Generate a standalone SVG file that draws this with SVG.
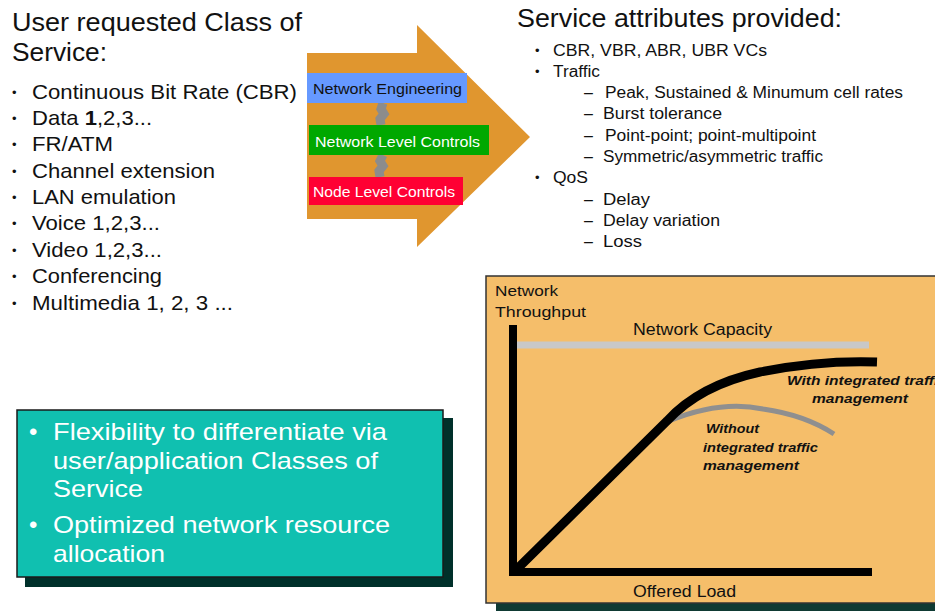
<svg xmlns="http://www.w3.org/2000/svg" width="935" height="611" viewBox="0 0 935 611">
<style>
text{font-family:"Liberation Sans",Arial,sans-serif;fill:#111}
.h{font-size:26px}
.l{font-size:21px}
.r{font-size:16px}
.w{fill:#fff}
.b{font-size:13px}
.i{font-style:italic;font-weight:bold;font-size:13px}
</style>
<rect width="935" height="611" fill="#fff"/>
<g id="left-list">
<text class="h" x="12" y="31" textLength="290" lengthAdjust="spacingAndGlyphs">User requested Class of</text>
<text class="h" x="12" y="61" textLength="95" lengthAdjust="spacingAndGlyphs">Service:</text>
<g class="l">
<text class="b" x="12" y="97">•</text><text x="32" y="99" textLength="265" lengthAdjust="spacingAndGlyphs">Continuous Bit Rate (CBR)</text>
<text class="b" x="12" y="123">•</text><text x="32" y="125" textLength="120" lengthAdjust="spacingAndGlyphs">Data <tspan font-weight="bold">1</tspan>,2,3...</text>
<text class="b" x="12" y="149">•</text><text x="32" y="151" textLength="81" lengthAdjust="spacingAndGlyphs">FR/ATM</text>
<text class="b" x="12" y="176">•</text><text x="32" y="178" textLength="183" lengthAdjust="spacingAndGlyphs">Channel extension</text>
<text class="b" x="12" y="202">•</text><text x="32" y="204" textLength="144" lengthAdjust="spacingAndGlyphs">LAN emulation</text>
<text class="b" x="12" y="228">•</text><text x="32" y="230" textLength="128" lengthAdjust="spacingAndGlyphs">Voice 1,2,3...</text>
<text class="b" x="12" y="255">•</text><text x="32" y="257" textLength="130" lengthAdjust="spacingAndGlyphs">Video 1,2,3...</text>
<text class="b" x="12" y="281">•</text><text x="32" y="283" textLength="130" lengthAdjust="spacingAndGlyphs">Conferencing</text>
<text class="b" x="12" y="308">•</text><text x="32" y="310" textLength="201" lengthAdjust="spacingAndGlyphs">Multimedia 1, 2, 3 ...</text>
</g>
</g>
<g id="arrow">
<polygon points="307,53 417,53 417,25 530,137 417,247 417,219 307,219" fill="#E0962F"/>
</g>
<g id="connectors">
<path d="M383,103 L381,109 L384,114 L380,119 L381,125 M383,155 L380,161 L383,166 L379,171 L380,177" stroke="#8C8C8C" stroke-width="9" fill="none"/>
</g>
<g id="network-engineering">
<rect x="307" y="73" width="160" height="30" fill="#6699FF"/>
<text x="313" y="94" font-size="15" textLength="149" lengthAdjust="spacingAndGlyphs">Network Engineering</text>
</g>
<g id="network-level-controls">
<rect x="309" y="125" width="180" height="30" fill="#00A800"/>
<text class="w" x="315" y="147" font-size="15" textLength="165" lengthAdjust="spacingAndGlyphs">Network Level Controls</text>
</g>
<g id="node-level-controls">
<rect x="309" y="177" width="154" height="28" fill="#FF0033"/>
<text class="w" x="313" y="197" font-size="15" textLength="142" lengthAdjust="spacingAndGlyphs">Node Level Controls</text>
</g>
<g id="right-list">
<text x="517" y="27" font-size="26" textLength="325" lengthAdjust="spacingAndGlyphs">Service attributes provided:</text>
<g class="r">
<text class="b" x="535" y="55">•</text><text x="553" y="56" textLength="214" lengthAdjust="spacingAndGlyphs">CBR, VBR, ABR, UBR VCs</text>
<text class="b" x="535" y="76">•</text><text x="553" y="77" textLength="47" lengthAdjust="spacingAndGlyphs">Traffic</text>
<text x="584" y="98">–</text><text x="605" y="98" textLength="298" lengthAdjust="spacingAndGlyphs">Peak, Sustained &amp; Minumum cell rates</text>
<text x="584" y="119">–</text><text x="603" y="119" textLength="119" lengthAdjust="spacingAndGlyphs">Burst tolerance</text>
<text x="584" y="141">–</text><text x="605" y="141" textLength="211" lengthAdjust="spacingAndGlyphs">Point-point; point-multipoint</text>
<text x="584" y="162">–</text><text x="603" y="162" textLength="220" lengthAdjust="spacingAndGlyphs">Symmetric/asymmetric traffic</text>
<text class="b" x="535" y="182">•</text><text x="553" y="183" textLength="35" lengthAdjust="spacingAndGlyphs">QoS</text>
<text x="584" y="205">–</text><text x="603" y="205" textLength="47" lengthAdjust="spacingAndGlyphs">Delay</text>
<text x="584" y="226">–</text><text x="603" y="226" textLength="117" lengthAdjust="spacingAndGlyphs">Delay variation</text>
<text x="584" y="247">–</text><text x="603" y="247" textLength="39" lengthAdjust="spacingAndGlyphs">Loss</text>
</g>
</g>
<g id="chart">
<rect x="496" y="600" width="450" height="11" fill="#0F3A33"/>
<rect x="486" y="276" width="460" height="327" fill="#F5BE6A" stroke="#333" stroke-width="1.5"/>
<text x="495" y="296" font-size="15" textLength="63" lengthAdjust="spacingAndGlyphs">Network</text>
<text x="495" y="317" font-size="15" textLength="91" lengthAdjust="spacingAndGlyphs">Throughput</text>
<text x="633" y="335" font-size="16" textLength="139" lengthAdjust="spacingAndGlyphs">Network Capacity</text>
<line x1="516" y1="345" x2="869" y2="345" stroke="#C8C8C8" stroke-width="7"/>
<line x1="513" y1="325" x2="513" y2="576" stroke="#000" stroke-width="8"/>
<line x1="509" y1="572" x2="872" y2="572" stroke="#000" stroke-width="8"/>
<path d="M669,421 Q720,400 763,409 Q805,415 834,434" fill="none" stroke="#8F8F8F" stroke-width="5"/>
<path d="M516,570 L667,421 Q700,385 760,372 Q820,360 877,362" fill="none" stroke="#000" stroke-width="9"/>
<text class="i" x="787" y="385" textLength="160" lengthAdjust="spacingAndGlyphs">With integrated traffic</text>
<text class="i" x="812" y="403" textLength="96" lengthAdjust="spacingAndGlyphs">management</text>
<text class="i" x="706" y="433" textLength="53" lengthAdjust="spacingAndGlyphs">Without</text>
<text class="i" x="703" y="452" textLength="115" lengthAdjust="spacingAndGlyphs">integrated traffic</text>
<text class="i" x="703" y="470" textLength="96" lengthAdjust="spacingAndGlyphs">management</text>
<text x="633" y="597" font-size="16" textLength="103" lengthAdjust="spacingAndGlyphs">Offered Load</text>
</g>
<g id="benefits">
<rect x="25" y="418" width="428" height="169" fill="#00302A"/>
<rect x="17" y="410" width="426" height="167" fill="#10C0B0" stroke="#1A1A1A" stroke-width="1.5"/>
<g class="w" font-size="24">
<text class="w" x="29" y="440">•</text><text class="w" x="53" y="440" textLength="334" lengthAdjust="spacingAndGlyphs">Flexibility to differentiate via</text>
<text class="w" x="53" y="469" textLength="325" lengthAdjust="spacingAndGlyphs">user/application Classes of</text>
<text class="w" x="53" y="497" textLength="90" lengthAdjust="spacingAndGlyphs">Service</text>
<text class="w" x="29" y="533">•</text><text class="w" x="53" y="533" textLength="337" lengthAdjust="spacingAndGlyphs">Optimized network resource</text>
<text class="w" x="53" y="562" textLength="112" lengthAdjust="spacingAndGlyphs">allocation</text>
</g>
</g>
</svg>
